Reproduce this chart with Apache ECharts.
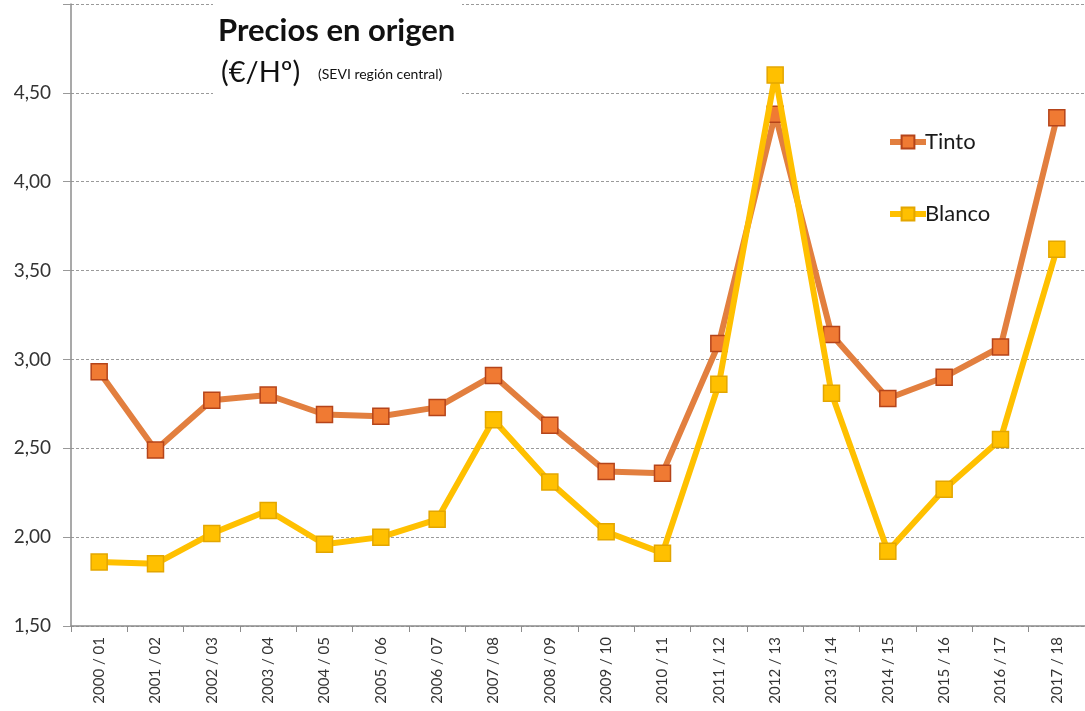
<!DOCTYPE html>
<html>
<head>
<meta charset="utf-8">
<title>Precios en origen</title>
<script src="https://cdn.jsdelivr.net/npm/echarts@6/dist/echarts.min.js"></script>
<style>
  html, body { margin: 0; padding: 0; background: #fff; }
  #chart { width: 1085px; height: 711px; }
</style>
</head>
<body>
<div id="chart"></div>
<script>
// campañas
var campanas = [
  "2000 / 01", "2001 / 02", "2002 / 03", "2003 / 04", "2004 / 05", "2005 / 06",
  "2006 / 07", "2007 / 08", "2008 / 09", "2009 / 10", "2010 / 11", "2011 / 12",
  "2012 / 13", "2013 / 14", "2014 / 15", "2015 / 16", "2016 / 17", "2017 / 18"
];
// €/Hº
var tinto = [2.93, 2.49, 2.77, 2.80, 2.69, 2.68, 2.73, 2.91, 2.63, 2.37, 2.36, 3.09, 4.38, 3.14, 2.78, 2.90, 3.07, 4.36];
var blanco = [1.86, 1.85, 2.02, 2.15, 1.96, 2.00, 2.10, 2.66, 2.31, 2.03, 1.91, 2.86, 4.60, 2.81, 1.92, 2.27, 2.55, 3.62];
var yMin = 1.5, yMax = 5, yStep = 0.5;

var font = "Lato, 'Open Sans', sans-serif";
var chart = echarts.init(document.getElementById("chart"));

var option = {
  animation: false,
  textStyle: { fontFamily: font },
  grid: { left: 71, top: 4, width: 1023, height: 622 },
  legend: {
    orient: "vertical",
    left: 882,
    top: 126,
    itemWidth: 36,
    itemHeight: 16,
    itemGap: 50,
    lineStyle: { width: 6 },
    textStyle: { fontSize: 22, color: "#1a1a1a", fontFamily: font, padding: [0, 0, 0, -6] },
    data: ["Tinto", "Blanco"]
  },
  xAxis: {
    type: "category",
    data: campanas,
    boundaryGap: true,
    axisLine: { lineStyle: { color: "#8c8c8c", width: 1.5 } },
    axisTick: { show: true, length: 6, lineStyle: { color: "#8c8c8c" } },
    axisLabel: { rotate: 90, fontSize: 15, color: "#333", margin: 11 }
  },
  yAxis: {
    type: "value",
    min: yMin,
    max: yMax,
    interval: yStep,
    axisLine: { show: true, lineStyle: { color: "#8c8c8c", width: 1.5 } },
    axisTick: { show: true, length: 8, lineStyle: { color: "#999" } },
    axisLabel: {
      fontSize: 19,
      color: "#333",
      margin: 20,
      formatter: function (v) {
        if (v >= yMax) return "";
        return v.toFixed(2).replace(".", ",");
      }
    },
    splitLine: { show: true, lineStyle: { color: "#9a9a9a", type: [3, 2], width: 1 } }
  },
  series: [
    {
      name: "Tinto",
      type: "line",
      data: tinto,
      symbol: "rect",
      symbolSize: 16,
      lineStyle: { color: "#E27F3F", width: 6 },
      itemStyle: { color: "#F07A33", borderColor: "#B5441A", borderWidth: 1.5 },
      z: 2
    },
    {
      name: "Blanco",
      type: "line",
      data: blanco,
      symbol: "rect",
      symbolSize: 16,
      lineStyle: { color: "#FFC000", width: 6 },
      itemStyle: { color: "#FFC000", borderColor: "#E3A600", borderWidth: 1.5 },
      z: 3
    }
  ],
  graphic: [
    { type: "rect", left: 213, top: 0, shape: { width: 249, height: 100 }, style: { fill: "#fff" }, z: 10 },
    { type: "text", left: 218, top: 15, style: { text: "Precios en origen", font: "bold 31px " + font, fill: "#111" }, z: 11 },
    { type: "text", left: 221, top: 58, style: { text: "(€/Hº)", font: "29px " + font, fill: "#111" }, z: 11 },
    { type: "text", left: 318, top: 67, style: { text: "(SEVI región central)", font: "14px " + font, fill: "#111" }, z: 11 }
  ]
};

chart.setOption(option);
window.addEventListener("resize", function () {
  chart.resize();
});
</script>
</body>
</html>
